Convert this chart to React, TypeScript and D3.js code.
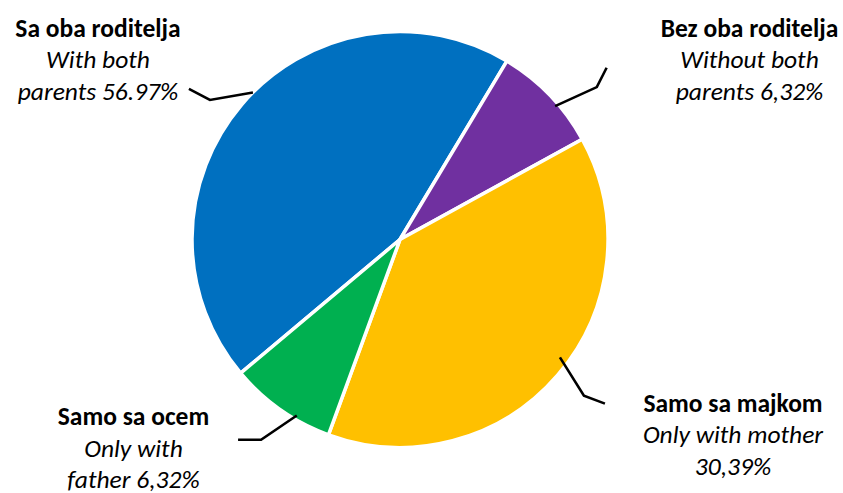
import React from "react";
import * as d3 from "d3";

const categories = ["Sa oba roditelja", "Bez oba roditelja", "Samo sa majkom", "Samo sa ocem"];
const englishLabels = [
  ["With both", "parents 56.97%"],
  ["Without both", "parents 6,32%"],
  ["Only with mother", "30,39%"],
  ["Only with", "father 6,32%"],
];
// slice sizes as drawn in the reference (percent of circle)
const sliceValues = [44.7, 8.4, 38.6, 8.3];
const colors = ["#0070C0", "#7030A0", "#FFC000", "#00B050"];

// layout of labels and leader lines
const labelLayout = [
  { x: 98, y: 36.7, angle: -45, r: 208, elbow: [-43, 7.5], end: [-64, -3.5] },
  { x: 749.5, y: 36.7, angle: 49.3, r: 204.6, elbow: [41.7, -19], end: [51.5, -38.3] },
  { x: 733, y: 411.7, angle: 126.4, r: 198.7, elbow: [24, 38.2], end: [45, 46.2] },
  { x: 133.5, y: 425, angle: 210.4, r: 204, elbow: [-35.7, 24.3], end: [-58.7, 24.3] },
];

const W = 843;
const H = 493;
const CX = 400;
const CY = 239.5;
const R = 208;
const FONT = "Carlito, Calibri, Lato, sans-serif";
const LINE = 31.7;

export default function App() {
  const pie = d3
    .pie<number>()
    .value((d) => d)
    .sort(null)
    .startAngle((-130 * Math.PI) / 180)
    .endAngle((230 * Math.PI) / 180);
  const arcs = pie(sliceValues);
  const arcGen = d3.arc<d3.PieArcDatum<number>>().innerRadius(0).outerRadius(R);

  return (
    <svg
      width={W}
      height={H}
      style={{ position: "absolute", left: 0, top: 0, background: "#fff" }}
    >
      <g transform={`translate(${CX},${CY})`}>
        {arcs.map((a, i) => (
          <path
            key={i}
            d={arcGen(a) || ""}
            fill={colors[i]}
            stroke="#fff"
            strokeWidth={3.5}
            strokeLinejoin="round"
          />
        ))}
      </g>
      {labelLayout.map((l, i) => {
        const rad = (l.angle * Math.PI) / 180;
        const sx = CX + l.r * Math.sin(rad);
        const sy = CY - l.r * Math.cos(rad);
        const pts: [number, number][] = [
          [sx, sy],
          [sx + l.elbow[0], sy + l.elbow[1]],
          [sx + l.end[0], sy + l.end[1]],
        ];
        return (
          <path
            key={i}
            d={d3.line()(pts) || ""}
            fill="none"
            stroke="#000"
            strokeWidth={2.6}
          />
        );
      })}
      {labelLayout.map((l, i) => (
        <text key={i} fontFamily={FONT} fontSize={25.5} textAnchor="middle" fill="#000">
          <tspan x={l.x} y={l.y} fontWeight="bold">
            {categories[i]}
          </tspan>
          {englishLabels[i].map((t, j) => (
            <tspan key={j} x={l.x} y={l.y + LINE * (j + 1)} fontStyle="italic">
              {t}
            </tspan>
          ))}
        </text>
      ))}
    </svg>
  );
}
